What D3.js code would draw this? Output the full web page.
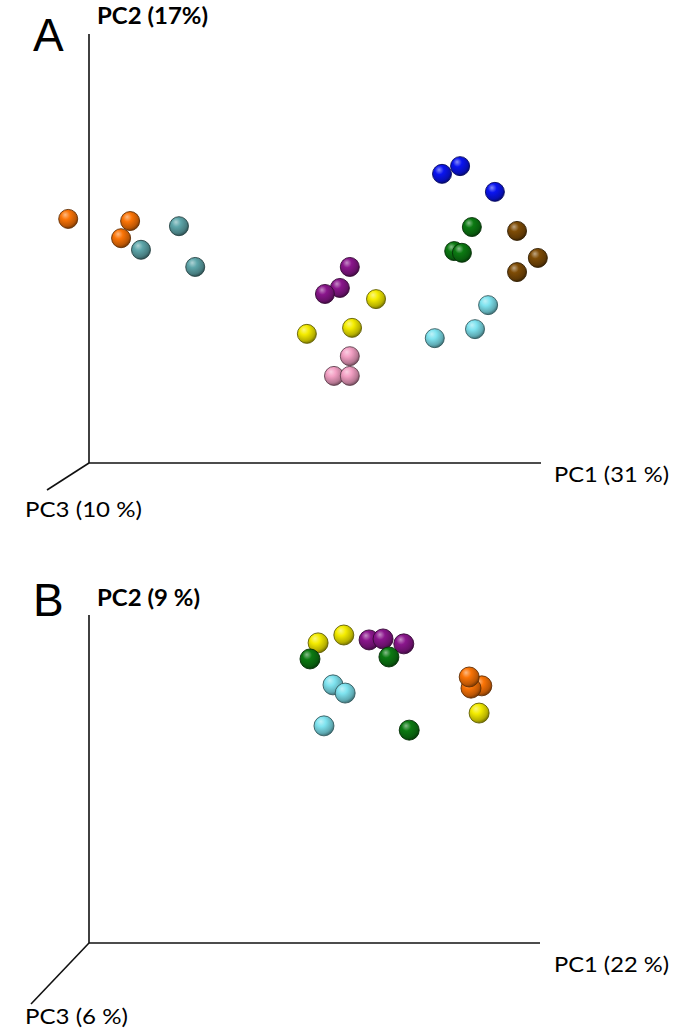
<!DOCTYPE html>
<html>
<head>
<meta charset="utf-8">
<script src="https://cdn.jsdelivr.net/npm/d3@7"></script>
<style>
  body { margin: 0; background: #fff; }
  svg { display: block; }
</style>
</head>
<body>
<div id="chart"></div>
<script>
// projected sample positions (axis frame 0..100)
var groupColors = {
  orange: "#fb7406", teal: "#5ea6aa", purple: "#8a168c", yellow: "#f4ec00",
  pink: "#f3a0c4", blue: "#0a14f0", green: "#0c7a12", brown: "#7e4c06", cyan: "#7fe3ef"
};

var groupsA = ["orange","orange","orange","teal","teal","teal",
  "purple","purple","purple","yellow","yellow","yellow","pink","pink","pink",
  "blue","blue","blue","green","green","green","brown","brown","brown","cyan","cyan","cyan"];
var pc1A = [-4.6, 9.1, 7.1, 19.9, 11.5, 23.5,
  57.7, 55.5, 52.2, 63.5, 58.2, 48.2, 57.7, 54.2, 57.7,
  78.1, 82.1, 89.8, 84.7, 80.8, 82.5, 94.7, 99.3, 94.7, 88.3, 85.4, 76.5];
var pc2A = [56.9, 56.4, 52.4, 55.2, 49.7, 45.7,
  45.7, 40.8, 39.4, 38.2, 31.5, 30.1, 24.9, 20.3, 20.3,
  67.4, 69.2, 63.2, 55.0, 49.4, 49.0, 54.1, 47.8, 44.5, 36.8, 31.2, 29.1];

var groupsB = ["yellow","yellow","yellow","purple","purple","purple",
  "green","green","green","cyan","cyan","cyan","orange","orange","orange"];
var pc1B = [50.8, 56.5, 86.5, 62.1, 65.2, 69.8,
  49.0, 66.5, 71.0, 54.1, 56.8, 52.1, 87.1, 84.7, 84.3];
var pc2B = [91.5, 93.9, 70.1, 92.4, 92.7, 91.2,
  86.6, 87.2, 64.9, 78.7, 76.2, 66.2, 78.4, 77.7, 81.1];

var W = 675, H = 1031;
var svg = d3.select("#chart").append("svg")
  .attr("width", W).attr("height", H);

// sphere shading gradients
var defs = svg.append("defs");
Object.keys(groupColors).forEach(function (k) {
  var base = d3.color(groupColors[k]);
  var grad = defs.append("radialGradient")
    .attr("id", "ball-" + k)
    .attr("cx", "40%").attr("cy", "35%").attr("r", "68%")
    .attr("fx", "34%").attr("fy", "28%");
  grad.append("stop").attr("offset", "0%").attr("stop-color", d3.interpolateRgb(base, "#fff")(0.5));
  grad.append("stop").attr("offset", "35%").attr("stop-color", base.formatHex());
  grad.append("stop").attr("offset", "78%").attr("stop-color", base.darker(0.8).formatHex());
  grad.append("stop").attr("offset", "100%").attr("stop-color", base.darker(2.2).formatHex());
});

function drawPanel(cfg) {
  var g = svg.append("g");
  var x = d3.scaleLinear().domain([0, 100]).range([cfg.x0, cfg.x1]);
  var y = d3.scaleLinear().domain([0, 100]).range([cfg.y0, cfg.y1]);

  // axes: PC2 up, PC1 right, PC3 toward viewer
  g.append("line").attr("x1", x(0)).attr("y1", y(0)).attr("x2", x(0)).attr("y2", y(100))
    .attr("stroke", "#111").attr("stroke-width", 1.6);
  g.append("line").attr("x1", x(0)).attr("y1", y(0)).attr("x2", x(100)).attr("y2", y(0))
    .attr("stroke", "#111").attr("stroke-width", 1.6);
  g.append("line").attr("x1", x(0)).attr("y1", y(0)).attr("x2", cfg.zx).attr("y2", cfg.zy)
    .attr("stroke", "#111").attr("stroke-width", 1.6);

  g.append("text").attr("x", 33).attr("y", cfg.letterY)
    .attr("font-family", "Liberation Sans, Arial, sans-serif").attr("font-size", 46)
    .text(cfg.letter);

  var lab = function (t, px, py, len, bold) {
    g.append("text").attr("x", px).attr("y", py)
      .attr("font-family", "Lato, 'Open Sans', sans-serif")
      .attr("font-size", 22).attr("font-weight", bold ? "bold" : "normal")
      .attr("textLength", len).attr("lengthAdjust", "spacingAndGlyphs")
      .text(t);
  };
  lab(cfg.pc2Label, 97, cfg.pc2Y, cfg.pc2Len, true);
  lab(cfg.pc1Label, 554, cfg.pc1Y, 115, false);
  lab(cfg.pc3Label, 25, cfg.pc3Y, cfg.pc3Len, false);

  var pts = cfg.groups.map(function (k, i) { return { k: k, a: cfg.xs[i], b: cfg.ys[i] }; });
  g.selectAll("circle.pt").data(pts).enter().append("circle")
    .attr("class", "pt")
    .attr("cx", function (d) { return x(d.a); })
    .attr("cy", function (d) { return y(d.b); })
    .attr("r", cfg.r)
    .attr("fill", function (d) { return "url(#ball-" + d.k + ")"; })
    .attr("stroke", function (d) { return d3.color(groupColors[d.k]).darker(2.6); })
    .attr("stroke-width", 0.9);
}

drawPanel({
  letter: "A", letterY: 51,
  x0: 89, x1: 541, y0: 463, y1: 34, zx: 47, zy: 490,
  pc2Label: "PC2 (17%)", pc2Y: 24, pc2Len: 111,
  pc1Label: "PC1 (31 %)", pc1Y: 482,
  pc3Label: "PC3 (10 %)", pc3Y: 517, pc3Len: 117,
  groups: groupsA, xs: pc1A, ys: pc2A, r: 9.5
});

drawPanel({
  letter: "B", letterY: 616,
  x0: 89, x1: 540, y0: 943, y1: 615, zx: 31, zy: 1004,
  pc2Label: "PC2 (9 %)", pc2Y: 606, pc2Len: 103,
  pc1Label: "PC1 (22 %)", pc1Y: 972,
  pc3Label: "PC3 (6 %)", pc3Y: 1024, pc3Len: 103,
  groups: groupsB, xs: pc1B, ys: pc2B, r: 10
});
</script>
</body>
</html>
